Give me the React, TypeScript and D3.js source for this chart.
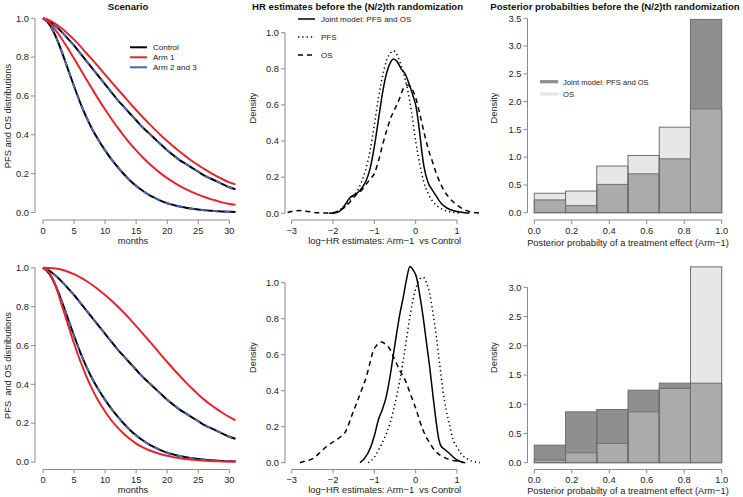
import React from "react";
import * as d3 from "d3";

// ---------- DATA ----------
const months = [0,1,2,3,4,5,6,7,8,9,10,11,12,13,14,15,16,17,18,19,20,21,22,23,24,25,26,27,28,29,30,31];

// Scenario 1 (top)
const controlPFS = [1,0.97,0.91,0.83,0.74,0.65,0.565,0.49,0.425,0.37,0.32,0.275,0.235,0.198,0.165,0.137,0.113,0.092,0.075,0.06,0.048,0.039,0.031,0.025,0.019,0.015,0.012,0.009,0.007,0.005,0.004,0.003];
const controlOS = [1,0.985,0.96,0.93,0.895,0.86,0.82,0.78,0.74,0.7,0.66,0.62,0.58,0.545,0.51,0.475,0.44,0.41,0.38,0.35,0.32,0.295,0.27,0.25,0.23,0.21,0.19,0.175,0.16,0.145,0.13,0.12];
const arm1PFSTop = [1,0.978,0.94,0.895,0.846,0.793,0.739,0.685,0.632,0.58,0.53,0.483,0.438,0.396,0.356,0.32,0.286,0.255,0.226,0.2,0.177,0.156,0.137,0.12,0.105,0.092,0.08,0.069,0.06,0.051,0.044,0.04];
const arm1OSTop = [1,0.99,0.972,0.949,0.921,0.89,0.857,0.82,0.785,0.748,0.71,0.673,0.636,0.6,0.563,0.528,0.493,0.46,0.428,0.397,0.368,0.34,0.314,0.289,0.265,0.244,0.223,0.204,0.186,0.17,0.155,0.145];
// Scenario 2 (bottom)
const arm1PFSBottom = [1,0.975,0.91,0.81,0.71,0.61,0.52,0.44,0.37,0.31,0.26,0.215,0.178,0.145,0.118,0.095,0.077,0.062,0.05,0.04,0.032,0.025,0.02,0.015,0.012,0.009,0.007,0.005,0.004,0.003,0.002,0.002];
const arm1OSBottom = [1,0.999,0.996,0.99,0.98,0.967,0.951,0.932,0.91,0.886,0.86,0.832,0.802,0.77,0.736,0.7,0.664,0.627,0.59,0.552,0.515,0.479,0.444,0.41,0.378,0.348,0.32,0.295,0.272,0.251,0.232,0.215];

// HR density estimates (x = log-HR, y = density)
const hrTopJoint = [[-2.1,0],[-1.9,0.005],[-1.8,0.02],[-1.7,0.05],[-1.6,0.085],[-1.5,0.1],[-1.4,0.115],[-1.3,0.14],[-1.2,0.18],[-1.1,0.25],[-1.0,0.37],[-0.9,0.52],[-0.8,0.67],[-0.7,0.78],[-0.6,0.84],[-0.54,0.855],[-0.45,0.84],[-0.35,0.8],[-0.25,0.77],[-0.15,0.71],[-0.05,0.64],[0,0.6],[0.05,0.53],[0.1,0.44],[0.15,0.34],[0.2,0.26],[0.3,0.17],[0.4,0.13],[0.5,0.095],[0.6,0.06],[0.7,0.038],[0.8,0.024],[0.9,0.016],[1.0,0.01],[1.1,0.006],[1.2,0.003],[1.3,0.001]];
const hrTopPFS = [[-2.0,0],[-1.9,0.01],[-1.8,0.025],[-1.7,0.04],[-1.6,0.07],[-1.5,0.1],[-1.4,0.13],[-1.3,0.18],[-1.2,0.25],[-1.1,0.35],[-1.0,0.49],[-0.9,0.64],[-0.8,0.76],[-0.7,0.85],[-0.6,0.89],[-0.55,0.9],[-0.5,0.895],[-0.4,0.85],[-0.3,0.78],[-0.2,0.69],[-0.1,0.56],[0,0.4],[0.1,0.27],[0.2,0.17],[0.3,0.11],[0.4,0.07],[0.5,0.045],[0.6,0.028],[0.8,0.01],[1.0,0.003],[1.1,0]];
const hrTopOS = [[-3.1,0.005],[-2.95,0.012],[-2.8,0.015],[-2.6,0.01],[-2.4,0.003],[-2.2,0.002],[-2.0,0.003],[-1.8,0.02],[-1.6,0.06],[-1.45,0.1],[-1.3,0.13],[-1.2,0.16],[-1.1,0.19],[-1.0,0.22],[-0.9,0.29],[-0.8,0.38],[-0.7,0.46],[-0.6,0.53],[-0.5,0.58],[-0.4,0.63],[-0.3,0.69],[-0.22,0.71],[-0.12,0.7],[-0.05,0.67],[0,0.64],[0.1,0.55],[0.2,0.45],[0.3,0.36],[0.4,0.29],[0.5,0.22],[0.6,0.165],[0.7,0.12],[0.8,0.09],[0.9,0.065],[1.0,0.045],[1.1,0.03],[1.2,0.018],[1.3,0.01],[1.4,0.005],[1.55,0.002]];
const hrBottomJoint = [[-1.35,0],[-1.25,0.02],[-1.1,0.08],[-1.0,0.15],[-0.9,0.24],[-0.8,0.3],[-0.72,0.36],[-0.62,0.48],[-0.54,0.6],[-0.46,0.72],[-0.38,0.83],[-0.3,0.92],[-0.22,1.02],[-0.14,1.09],[-0.06,1.07],[0.02,1.03],[0.1,0.93],[0.18,0.81],[0.26,0.67],[0.34,0.53],[0.42,0.37],[0.5,0.22],[0.56,0.13],[0.62,0.09],[0.7,0.075],[0.8,0.055],[0.9,0.033],[1.0,0.015],[1.1,0.005],[1.15,0]];
const hrBottomPFS = [[-1.15,0],[-1.0,0.03],[-0.9,0.07],[-0.75,0.14],[-0.62,0.22],[-0.54,0.29],[-0.46,0.37],[-0.38,0.46],[-0.3,0.57],[-0.22,0.69],[-0.14,0.81],[-0.06,0.91],[0.02,0.98],[0.1,1.02],[0.18,1.03],[0.26,1.0],[0.34,0.94],[0.42,0.83],[0.5,0.7],[0.58,0.55],[0.66,0.4],[0.74,0.29],[0.83,0.2],[0.9,0.13],[0.99,0.09],[1.1,0.05],[1.23,0.024],[1.35,0.01],[1.47,0.004],[1.55,0]];
const hrBottomOS = [[-2.8,0],[-2.65,0.01],[-2.48,0.024],[-2.3,0.06],[-2.16,0.09],[-2.0,0.115],[-1.84,0.14],[-1.68,0.18],[-1.55,0.26],[-1.43,0.33],[-1.3,0.41],[-1.19,0.48],[-1.1,0.56],[-1.03,0.62],[-0.95,0.65],[-0.82,0.67],[-0.72,0.655],[-0.62,0.63],[-0.54,0.59],[-0.46,0.55],[-0.38,0.51],[-0.3,0.48],[-0.22,0.44],[-0.14,0.39],[-0.06,0.34],[0.02,0.29],[0.1,0.23],[0.18,0.18],[0.26,0.14],[0.34,0.11],[0.42,0.08],[0.5,0.06],[0.6,0.04],[0.74,0.024],[0.85,0.015],[0.99,0.009],[1.1,0.004],[1.2,0]];

// Posterior probability histograms
const histBreaks = [0, 0.1667, 0.3333, 0.5, 0.6667, 0.8333, 1];
const histTopJoint = [0.23, 0.127, 0.51, 0.7, 0.97, 3.48];
const histTopOS = [0.35, 0.39, 0.84, 1.03, 1.54, 1.87];
const histBottomJoint = [0.3, 0.87, 0.91, 1.24, 1.36, 1.36];
const histBottomOS = [0.046, 0.17, 0.33, 0.87, 1.27, 3.35];

// Ticks
const survTicksX = [0, 5, 10, 15, 20, 25, 30];
const survTicksY = [0, 0.2, 0.4, 0.6, 0.8, 1.0];
const hrTicksX = [-3, -2, -1, 0, 1];
const hrTicksY = [0, 0.2, 0.4, 0.6, 0.8, 1.0];
const histTicksX = [0, 0.2, 0.4, 0.6, 0.8, 1.0];
const histTicksYTop = [0, 0.5, 1.0, 1.5, 2.0, 2.5, 3.0, 3.5];
const histTicksYBottom = [0, 0.5, 1.0, 1.5, 2.0, 2.5, 3.0];

const survLegend = ["Control", "Arm 1", "Arm 2 and 3"];
const hrLegend = ["Joint model: PFS and OS", "PFS", "OS"];
const histLegend = ["Joint model: PFS and OS", "OS"];

// ---------- STYLE ----------
const FONT = "'Liberation Sans', Arial, Helvetica, sans-serif";
const AXIS = "#8a8a8a";
const TXT = "#222";
const RED = "#e3262c";
const BLUE = "#4466b8";
const DARK = "#8f8f8f";
const LIGHT = "#e6e7e7";
const MID = "#ababab";
const OUTLINE = "#6e6e6e";
const TICK_FS = 9.3;
const LAB_FS = 9.3;

const minus = (s: string) => s.replace("-", "\u2212");

function XAxis({ y, scale, ticks, fmt }: any) {
  const x0 = scale(ticks[0]);
  const x1 = scale(ticks[ticks.length - 1]);
  return (
    <g>
      <line x1={x0} x2={x1} y1={y} y2={y} stroke={AXIS} strokeWidth={1} />
      {ticks.map((t: number, i: number) => (
        <g key={i}>
          <line x1={scale(t)} x2={scale(t)} y1={y} y2={y + 4} stroke={AXIS} strokeWidth={1} />
          <text x={scale(t)} y={y + 13.5} textAnchor="middle" fontSize={TICK_FS} fill={TXT} fontFamily={FONT}>
            {fmt(t)}
          </text>
        </g>
      ))}
    </g>
  );
}

function YAxis({ x, scale, ticks, fmt }: any) {
  const y0 = scale(ticks[0]);
  const y1 = scale(ticks[ticks.length - 1]);
  return (
    <g>
      <line x1={x} x2={x} y1={y0} y2={y1} stroke={AXIS} strokeWidth={1} />
      {ticks.map((t: number, i: number) => (
        <g key={i}>
          <line x1={x - 4} x2={x} y1={scale(t)} y2={scale(t)} stroke={AXIS} strokeWidth={1} />
          <text x={x - 6} y={scale(t) + 3.3} textAnchor="end" fontSize={TICK_FS} fill={TXT} fontFamily={FONT}>
            {fmt(t)}
          </text>
        </g>
      ))}
    </g>
  );
}

function VLabel({ x, y, text }: any) {
  return (
    <text transform={`translate(${x},${y}) rotate(-90)`} textAnchor="middle" fontSize={LAB_FS} fill={TXT} fontFamily={FONT}>
      {text}
    </text>
  );
}

function SurvPanel({ dy, red1, red2, ylab, legend }: any) {
  const sx = d3.scaleLinear().domain([0, 30]).range([43, 229.3]);
  const sy = d3.scaleLinear().domain([0, 1]).range([212.5 + dy, 18.3 + dy]);
  const line = d3.line<number>().x((_, i) => sx(months[i])).y((d) => sy(d)).curve(d3.curveMonotoneX);
  const f = d3.format(".1f");
  return (
    <g>
      <path d={line(controlOS)!} fill="none" stroke="#000" strokeWidth={2} />
      <path d={line(controlPFS)!} fill="none" stroke="#000" strokeWidth={2} />
      <path d={line(controlOS)!} fill="none" stroke={BLUE} strokeWidth={2} strokeDasharray="6,6" />
      <path d={line(controlPFS)!} fill="none" stroke={BLUE} strokeWidth={2} strokeDasharray="6,6" />
      <path d={line(red1)!} fill="none" stroke={RED} strokeWidth={2} />
      <path d={line(red2)!} fill="none" stroke={RED} strokeWidth={2} />
      <YAxis x={35} scale={sy} ticks={survTicksY} fmt={f} />
      <XAxis y={220 + dy} scale={sx} ticks={survTicksX} fmt={(t: number) => String(t)} />
      <text x={133} y={243.5 + dy} textAnchor="middle" fontSize={LAB_FS} fill={TXT} fontFamily={FONT}>months</text>
      <VLabel x={11} y={116 + dy} text={ylab} />
      {legend &&
        survLegend.map((s, i) => (
          <g key={i}>
            <line x1={130} x2={147} y1={47.3 + i * 10} y2={47.3 + i * 10} stroke={[ "#000", RED, BLUE ][i]} strokeWidth={2} />
            <text x={153} y={50.3 + i * 10} fontSize={8} fill={TXT} fontFamily={FONT}>{s}</text>
          </g>
        ))}
    </g>
  );
}

function HRPanel({ dy, joint, pfs, os, legend, y0, y1 }: any) {
  const sx = d3.scaleLinear().domain([-3, 1]).range([291.7, 457]);
  const sy = d3.scaleLinear().domain([0, 1]).range([y0, y1]);
  const line = d3.line<number[]>().x((d) => sx(d[0])).y((d) => sy(d[1])).curve(d3.curveMonotoneX);
  const f = d3.format(".1f");
  return (
    <g>
      <path d={line(os)!} fill="none" stroke="#000" strokeWidth={1.5} strokeDasharray="5,4" />
      <path d={line(pfs)!} fill="none" stroke="#000" strokeWidth={1.5} strokeDasharray="1.3,3" />
      <path d={line(joint)!} fill="none" stroke="#000" strokeWidth={1.5} />
      <YAxis x={285} scale={sy} ticks={hrTicksY} fmt={f} />
      <XAxis y={220 + dy} scale={sx} ticks={hrTicksX} fmt={(t: number) => minus(String(t))} />
      <text x={384.7} y={243.5 + dy} textAnchor="middle" fontSize={LAB_FS} fill={TXT} fontFamily={FONT}>
        log{"\u2212"}HR estimates: Arm{"\u2212"}1{"\u00a0\u00a0"}vs Control
      </text>
      <VLabel x={256} y={108 + dy} text="Density" />
      {legend &&
        hrLegend.map((s, i) => (
          <g key={i}>
            <line x1={298} x2={315} y1={19 + i * 18} y2={19 + i * 18} stroke="#000" strokeWidth={1.5}
              strokeDasharray={["", "1.3,3", "5,4"][i] || undefined} />
            <text x={321} y={22 + i * 18} fontSize={8} fill={TXT} fontFamily={FONT}>{s}</text>
          </g>
        ))}
    </g>
  );
}

function HistPanel({ dy, joint, os, ymax, ticksY, y0, y1, legend, xlabY }: any) {
  const sx = d3.scaleLinear().domain([0, 1]).range([534.3, 721.7]);
  const sy = d3.scaleLinear().domain([0, ymax]).range([y0, y1]);
  const f = d3.format(".1f");
  return (
    <g>
      {joint.map((j: number, i: number) => {
        const o = os[i];
        const xa = sx(histBreaks[i]);
        const xb = sx(histBreaks[i + 1]);
        const lo = Math.min(j, o);
        const hi = Math.max(j, o);
        return (
          <g key={i}>
            <rect x={xa} y={sy(hi)} width={xb - xa} height={sy(lo) - sy(hi)} fill={j > o ? DARK : LIGHT} />
            <rect x={xa} y={sy(lo)} width={xb - xa} height={sy(0) - sy(lo)} fill={MID} />
          </g>
        );
      })}
      {joint.map((j: number, i: number) => (
        <rect key={"j" + i} x={sx(histBreaks[i])} y={sy(j)} width={sx(histBreaks[i + 1]) - sx(histBreaks[i])}
          height={sy(0) - sy(j)} fill="none" stroke={OUTLINE} strokeWidth={1} />
      ))}
      {os.map((o: number, i: number) => (
        <rect key={"o" + i} x={sx(histBreaks[i])} y={sy(o)} width={sx(histBreaks[i + 1]) - sx(histBreaks[i])}
          height={sy(0) - sy(o)} fill="none" stroke={OUTLINE} strokeWidth={1} />
      ))}
      <YAxis x={527.5} scale={sy} ticks={ticksY} fmt={f} />
      <XAxis y={220 + dy} scale={sx} ticks={histTicksX} fmt={f} />
      <text x={628} y={xlabY} textAnchor="middle" fontSize={LAB_FS} fill={TXT} fontFamily={FONT}>
        Posterior probabilty of a treatment effect (Arm{"\u2212"}1)
      </text>
      <VLabel x={497} y={108 + dy} text="Density" />
      {legend &&
        histLegend.map((s, i) => (
          <g key={i}>
            <line x1={540} x2={558.3} y1={81.7 + i * 12.3} y2={81.7 + i * 12.3} stroke={[DARK, LIGHT][i]} strokeWidth={3.3} />
            <text x={563} y={84.5 + i * 12.3} fontSize={7.6} fill={TXT} fontFamily={FONT}>{s}</text>
          </g>
        ))}
    </g>
  );
}

export default function App() {
  const DY = 249.5;
  return (
    <svg width={743} height={497} style={{ position: "absolute", left: 0, top: 0, background: "#fff" }}>
      <rect width={743} height={497} fill="#fff" />
      <g fontFamily={FONT}>
        <text x={128} y={10} textAnchor="middle" fontSize={9.6} fontWeight="bold" fill="#111">Scenario</text>
        <text x={357.5} y={10} textAnchor="middle" fontSize={9.6} fontWeight="bold" fill="#111">HR estimates before the (N/2)th randomization</text>
        <text x={615} y={10} textAnchor="middle" fontSize={9.6} fontWeight="bold" fill="#111">Posterior probabilties before the (N/2)th randomization</text>
      </g>
      <SurvPanel dy={0} red1={arm1OSTop} red2={arm1PFSTop} ylab="PFS and OS distributions" legend />
      <SurvPanel dy={DY} red1={arm1OSBottom} red2={arm1PFSBottom} ylab={"PFS\u00a0 and OS distributions"} legend={false} />
      <HRPanel dy={0} joint={hrTopJoint} pfs={hrTopPFS} os={hrTopOS} legend y0={213.3} y1={32.7} />
      <HRPanel dy={DY} joint={hrBottomJoint} pfs={hrBottomPFS} os={hrBottomOS} legend={false} y0={462.7} y1={282.7} />
      <HistPanel dy={0} joint={histTopJoint} os={histTopOS} ymax={3.5} ticksY={histTicksYTop} y0={212.7} y1={18.3} legend xlabY={246} />
      <HistPanel dy={DY} joint={histBottomJoint} os={histBottomOS} ymax={3} ticksY={histTicksYBottom} y0={462.7} y1={287.3} legend={false} xlabY={493.5} />
    </svg>
  );
}
